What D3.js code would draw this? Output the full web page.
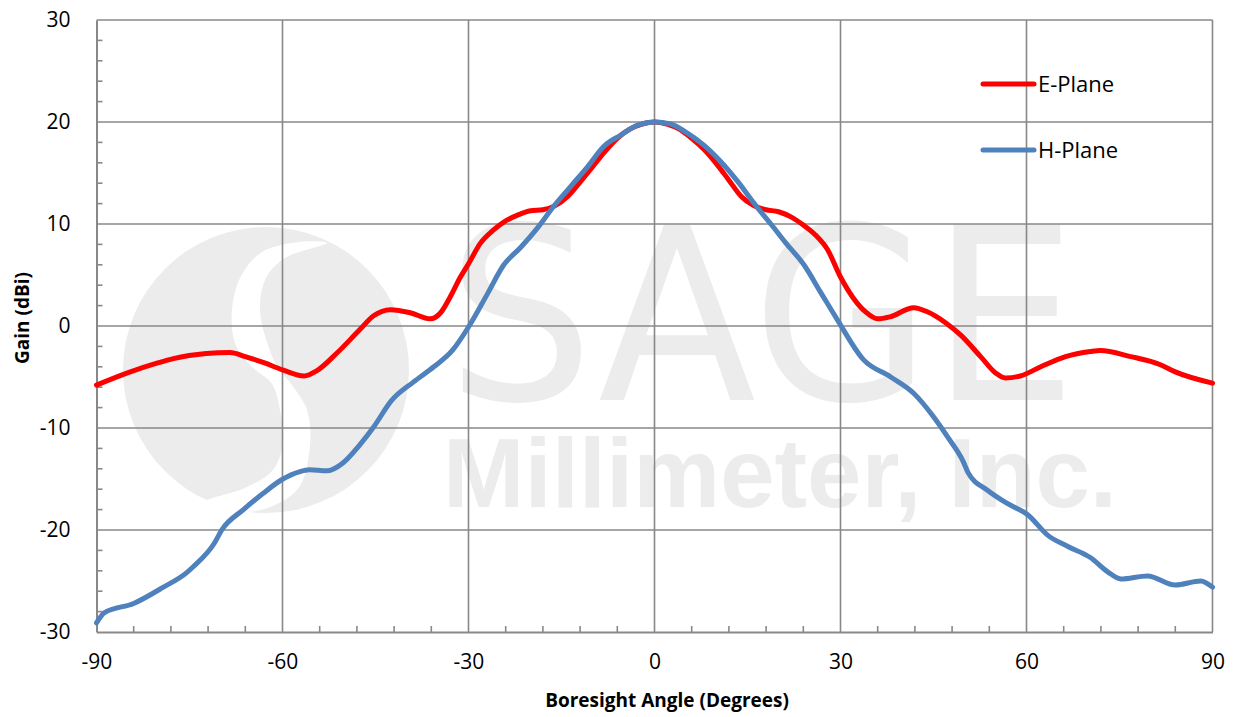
<!DOCTYPE html>
<html>
<head>
<meta charset="utf-8">
<script src="https://cdn.jsdelivr.net/npm/d3@7"></script>
<style>
  html, body { margin: 0; padding: 0; background: #ffffff; }
  svg { display: block; }
</style>
</head>
<body>
<svg id="chart" width="1233" height="717"></svg>
<script>
// ---------------- DATA ----------------
const xTicks = [-90, -60, -30, 0, 30, 60, 90];
const yTicks = [-30, -20, -10, 0, 10, 20, 30];
const seriesNames = ["E-Plane", "H-Plane"];

const eAngles = [-90, -85, -80, -77.6, -72.3, -68.5, -66, -63, -60, -56.5, -54.5, -51.3, -47.6, -45.3, -42.6, -39.4,
  -36.2, -34.5, -33, -31.3, -30, -28.1, -26, -24, -22, -20, -18, -16, -14, -12, -10, -8, -6, -4, -2, 0,
  2, 4, 6, 8, 10, 12, 14, 16, 18, 20, 22, 24, 26, 27.9, 30, 32, 34, 36, 38, 41.8, 44, 47, 49.4, 52.6,
  55, 56.6, 59, 62.3, 66.3, 70.3, 71.9, 76.8, 81.6, 84, 90];
const eGain = [-5.8, -4.6, -3.6, -3.2, -2.7, -2.6, -3.0, -3.6, -4.3, -4.9, -4.4, -2.7, -0.4, 1.0, 1.6, 1.3,
  0.7, 1.3, 2.8, 4.8, 6.1, 8.1, 9.4, 10.3, 10.9, 11.3, 11.4, 11.8, 12.7, 14.1, 15.6, 17.1, 18.4, 19.3, 19.8, 20.0,
  19.8, 19.3, 18.4, 17.3, 15.9, 14.3, 12.7, 11.8, 11.4, 11.2, 10.7, 9.9, 8.9, 7.5, 4.8, 2.8, 1.4, 0.7, 0.9, 1.8, 1.4, 0.3, -0.9, -3.0,
  -4.6, -5.1, -4.9, -4.0, -3.0, -2.5, -2.4, -3.0, -3.8, -4.5, -5.6];

const hAngles = [-90, -88.7, -84, -79.2, -75.5, -74.4, -71, -69.8, -66.3, -63.1, -60.2, -57.3, -55.6, -52.9, -50.2,
  -47.6, -45.3, -42.4, -38.9, -35.6, -32.6, -30, -26.9, -24.3, -21.6, -18.9, -16.3, -13.5, -10.8, -8.2, -5.5, -2.7, 0,
  2.6, 5.3, 8, 10.7, 13.5, 16.1, 18.9, 21.1, 24.1, 26.8, 29.5, 33.7, 38.1, 41.8, 45, 47.3, 49.8, 50.6, 53.7, 56.9,
  60.2, 63.4, 66.6, 70.3, 73.1, 75.2, 79.5, 84, 88.1, 90];
const hGain = [-29.1, -28.1, -27.2, -25.6, -24.2, -23.6, -21.3, -20.0, -18.0, -16.4, -15.1, -14.3, -14.1, -14.2, -13.4,
  -11.7, -9.9, -7.3, -5.5, -4.0, -2.4, -0.1, 3.2, 6.0, 7.7, 9.6, 11.7, 13.7, 15.6, 17.6, 18.7, 19.7, 20.0,
  19.8, 18.9, 17.7, 16.1, 14.1, 12.0, 9.9, 8.2, 6.0, 3.3, 0.6, -3.3, -5.0, -6.6, -8.9, -10.9, -13.3, -14.4, -16.1, -17.4,
  -18.5, -20.5, -21.6, -22.7, -24.1, -24.8, -24.5, -25.4, -25.0, -25.6];

// ---------------- LAYOUT ----------------
const svg = d3.select("#chart");
const W = 1233, H = 717;
const plotL = 96.5, plotR = 1212.5, plotT = 20, plotB = 632;
const font = "'Open Sans', 'Liberation Sans', sans-serif";
const gridColor = "#888888";
const wmColor = "#ececec";

svg.append("rect").attr("width", W).attr("height", H).attr("fill", "#ffffff");

const x = d3.scaleLinear().domain([-90, 90]).range([plotL, plotR]);
const y = d3.scaleLinear().domain([-30, 30]).range([plotB, plotT]);
const fmt = d => String(d);

// ---------------- WATERMARK ----------------
const wm = svg.append("g");
wm.append("circle").attr("cx", 266).attr("cy", 370).attr("r", 143).attr("fill", wmColor);
const crescent = [[300, 242], [262, 252], [241, 276], [232, 310], [235, 343], [250, 365], [272, 384], [280, 410],
  [283, 443], [273, 470], [245, 488], [205, 502], [250, 512], [297, 490], [310, 445], [307, 410], [292, 385],
  [278, 368], [268, 345], [260, 310], [266, 278], [285, 258], [327, 243]];
wm.append("path")
  .attr("d", d3.line().curve(d3.curveCatmullRomClosed)(crescent))
  .attr("fill", "#ffffff");
const wmText = wm.append("text").attr("fill", wmColor);
wmText.append("tspan").attr("x", 447).attr("y", 400)
  .attr("font-family", "'DejaVu Sans', sans-serif").attr("font-size", 240)
  .attr("textLength", 630).attr("lengthAdjust", "spacingAndGlyphs")
  .text("SAGE");
wmText.append("tspan").attr("x", 443).attr("y", 507)
  .attr("font-family", "'Liberation Sans', Arial, sans-serif").attr("font-size", 98).attr("font-weight", "bold")
  .attr("textLength", 674).attr("lengthAdjust", "spacingAndGlyphs")
  .text("Millimeter, Inc.");

// ---------------- GRID ----------------
const grid = svg.append("g");
grid.selectAll("line.h").data(yTicks.filter(d => d > -30)).join("line")
  .attr("x1", plotL).attr("x2", plotR)
  .attr("y1", d => y(d)).attr("y2", d => y(d))
  .attr("stroke", gridColor).attr("stroke-width", 1.6);
grid.selectAll("line.v").data(xTicks.filter(d => d > -90)).join("line")
  .attr("y1", plotT).attr("y2", plotB)
  .attr("x1", d => x(d)).attr("x2", d => x(d))
  .attr("stroke", gridColor).attr("stroke-width", 1.6);

// ---------------- AXES ----------------
const yAxis = d3.axisLeft(y).tickValues(yTicks).tickSize(0).tickPadding(26).tickFormat(fmt);
const gy = svg.append("g").attr("transform", `translate(${plotL},0)`).call(yAxis);
gy.select(".domain").attr("stroke", gridColor).attr("stroke-width", 2);
gy.selectAll("text").attr("font-family", font).attr("font-size", 21).attr("fill", "#000");

const xAxis = d3.axisBottom(x).tickValues(xTicks).tickSize(0).tickPadding(22).tickFormat(fmt);
const gx = svg.append("g").attr("transform", `translate(0,${plotB})`).call(xAxis);
gx.select(".domain").attr("stroke", gridColor).attr("stroke-width", 2);
gx.selectAll("text").attr("font-family", font).attr("font-size", 21).attr("fill", "#000");

// minor ticks (inside)
const yMinor = d3.range(-30, 30.01, 2).filter(d => d % 10 !== 0);
svg.append("g").selectAll("line").data(yMinor).join("line")
  .attr("x1", plotL).attr("x2", plotL + 6)
  .attr("y1", d => y(d)).attr("y2", d => y(d))
  .attr("stroke", gridColor).attr("stroke-width", 1.6);
const xMinor = d3.range(-90, 90.01, 6).filter(d => d % 30 !== 0);
svg.append("g").selectAll("line").data(xMinor).join("line")
  .attr("x1", d => x(d)).attr("x2", d => x(d))
  .attr("y1", plotB).attr("y2", plotB - 6)
  .attr("stroke", gridColor).attr("stroke-width", 1.6);

// axis titles
svg.append("text").attr("x", 667).attr("y", 707).attr("text-anchor", "middle")
  .attr("font-family", font).attr("font-weight", "bold").attr("font-size", 19)
  .text("Boresight Angle (Degrees)");
svg.append("text").attr("transform", "translate(29,318) rotate(-90)").attr("text-anchor", "middle")
  .attr("font-family", font).attr("font-weight", "bold").attr("font-size", 19)
  .text("Gain (dBi)");

// ---------------- LINES ----------------
const line = d3.line().x(d => x(d[0])).y(d => y(d[1])).curve(d3.curveMonotoneX);
const eData = d3.zip(eAngles, eGain);
const hData = d3.zip(hAngles, hGain);
const colors = ["#ff0000", "#4f81bd"];

svg.append("path").datum(eData).attr("d", line)
  .attr("fill", "none").attr("stroke", colors[0]).attr("stroke-width", 5)
  .attr("stroke-linejoin", "round").attr("stroke-linecap", "round");
svg.append("path").datum(hData).attr("d", line)
  .attr("fill", "none").attr("stroke", colors[1]).attr("stroke-width", 5)
  .attr("stroke-linejoin", "round").attr("stroke-linecap", "round");

// ---------------- LEGEND ----------------
const legY = [84, 150];
const leg = svg.append("g");
seriesNames.forEach((name, i) => {
  leg.append("line").attr("x1", 983).attr("x2", 1034).attr("y1", legY[i]).attr("y2", legY[i])
    .attr("stroke", colors[i]).attr("stroke-width", 5).attr("stroke-linecap", "round");
  leg.append("text").attr("x", 1038).attr("y", legY[i] + 8)
    .attr("font-family", font).attr("font-size", 22).attr("fill", "#000").text(name);
});
</script>
</body>
</html>
